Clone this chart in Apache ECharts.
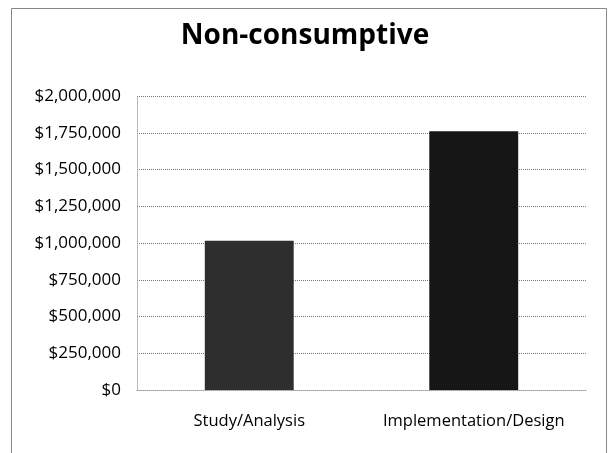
<!DOCTYPE html>
<html><head><meta charset="utf-8">
<script src="https://cdn.jsdelivr.net/npm/echarts@6/dist/echarts.min.js"></script>
<style>html,body{margin:0;padding:0;background:#fff}#c{width:610px;height:453px}</style>
</head><body><div id="c"></div>
<script>
const title = 'Non-consumptive';
const categories = ['Study/Analysis', 'Implementation/Design'];
const values = [1015000, 1760000];
const barColors = ['#2e2e2e', '#161616'];
const yMin = 0, yMax = 2000000, yInterval = 250000;

const chart = echarts.init(document.getElementById('c'));
chart.setOption({
  animation: false,
  backgroundColor: '#fff',
  title: {
    text: title, left: 'center', top: 17,
    textStyle: { fontFamily: 'Open Sans', fontWeight: 'bold', fontSize: 28, color: '#000' }
  },
  graphic: [{
    type: 'rect', shape: { x: 11.5, y: 8.5, width: 595, height: 460 },
    style: { fill: 'none', stroke: '#888', lineWidth: 1 }, silent: true
  }],
  grid: { left: 137, right: 24, top: 96, bottom: 63 },
  xAxis: {
    type: 'category', data: categories,
    axisLine: { show: true, lineStyle: { color: '#999', type: 'dotted' } },
    axisTick: { show: false },
    axisLabel: { interval: 0, hideOverlap: false, margin: 23, fontFamily: 'Open Sans', fontSize: 16.5, color: '#000' }
  },
  yAxis: {
    type: 'value', min: yMin, max: yMax, interval: yInterval,
    axisLine: { show: true, lineStyle: { color: '#aaa', type: 'dotted' } },
    axisTick: { show: false },
    splitLine: { lineStyle: { color: '#777', type: 'dotted' } },
    axisLabel: {
      margin: 16, fontFamily: 'Open Sans', fontSize: 17, color: '#000',
      formatter: v => '$' + v.toLocaleString('en-US')
    }
  },
  series: [{
    type: 'bar', barWidth: '39.6%',
    data: values.map((v, i) => ({ value: v, itemStyle: { color: barColors[i] } }))
  }]
});
</script></body></html>
